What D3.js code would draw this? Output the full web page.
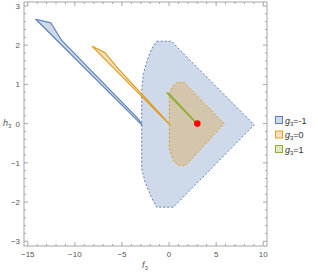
<!DOCTYPE html>
<html>
<head>
<meta charset="utf-8">
<script src="https://cdn.jsdelivr.net/npm/d3@7"></script>
<style>
  body { margin: 0; background: #fff; }
  text { font-family: "Liberation Sans", Arial, sans-serif; }
</style>
</head>
<body>
<svg id="chart"></svg>
<script>
// axis ticks
const xTicks = [-15, -10, -5, 0, 5, 10];
const yTicks = [-3, -2, -1, 0, 1, 2, 3];

// g3 = -1 : big region (dashed) and thin sliver (solid)
const regionNeg1 = [
  [-1.31, 2.10], [0.29, 2.10], [1.17, 1.87], [9.04, -0.03], [0.46, -2.13],
  [-1.31, -2.13], [-1.81, -1.91], [-2.55, -1.49], [-2.9, -1.15], [-2.9, 0.85],
  [-2.73, 1.28], [-2.2, 1.70], [-1.81, 1.92]
];
const sliverNeg1 = [[-14.15, 2.66], [-12.55, 2.57], [-11.4, 2.12], [-3.19, 0.1], [-2.87, -0.04]];

// g3 = 0
const region0 = [
  [0.03, 0.77], [0.32, 0.93], [0.85, 1.05], [1.6, 1.05], [2.0, 0.95], [5.85, 0.0],
  [1.8, -1.06], [0.96, -1.06], [0.43, -0.94], [0.03, -0.63]
];
const sliver0 = [[-8.16, 1.97], [-6.81, 1.81], [-5.43, 1.41], [-0.32, 0.085], [0.11, -0.04]];

// g3 = 1
const sliver1 = [[-0.22, 0.78], [0.03, 0.76], [3.0, 0.0], [2.85, 0.02]];

const point = [3, 0];

const legendLabels = ["-1", "0", "1"];
const colors = ["#5e81b5", "#e19c24", "#8fb032"];

const W = 318, H = 273;
const margin = { top: 2, right: 51, bottom: 27, left: 24 };
const width = W - margin.left - margin.right;
const height = H - margin.top - margin.bottom;

const svg = d3.select("#chart").attr("width", W).attr("height", H);
const chart = svg.append("g")
  .attr("transform", "translate(" + margin.left + "," + margin.top + ")");

const x = d3.scaleLinear().domain([-15.4, 10.4]).range([0, width]);
const y = d3.scaleLinear().domain([-3.12, 3.1]).range([height, 0]);

const line = d3.line().x(d => x(d[0])).y(d => y(d[1]));
const close = pts => line(pts) + "Z";

// regions
function region(pts, i, dashed) {
  chart.append("path")
    .attr("d", close(pts))
    .attr("fill", colors[i])
    .attr("fill-opacity", 0.3)
    .attr("stroke", colors[i])
    .attr("stroke-width", dashed ? 1 : 1.2)
    .attr("stroke-dasharray", dashed ? "2,2" : null)
    .attr("stroke-linejoin", "round");
}
region(regionNeg1, 0, true);
region(sliverNeg1, 0, false);
region(region0, 1, true);
region(sliver0, 1, false);
region(sliver1, 2, false);

chart.append("circle")
  .attr("cx", x(point[0])).attr("cy", y(point[1]))
  .attr("r", 3.3).attr("fill", "#ff0000");

// frame and ticks
const frameColor = "#a6a6a6";
chart.append("rect")
  .attr("width", width).attr("height", height)
  .attr("fill", "none").attr("stroke", frameColor).attr("stroke-width", 1);

const xMinor = d3.range(-15, 11, 1);
const yMinor = d3.range(-3, 3.01, 0.2);

xMinor.forEach(v => {
  const major = xTicks.includes(v);
  const len = major ? 4 : 2;
  chart.append("line").attr("x1", x(v)).attr("x2", x(v)).attr("y1", height).attr("y2", height - len).attr("stroke", frameColor);
  chart.append("line").attr("x1", x(v)).attr("x2", x(v)).attr("y1", 0).attr("y2", len).attr("stroke", frameColor);
});
yMinor.forEach(v => {
  const major = Math.abs(v - Math.round(v)) < 1e-6;
  const len = major ? 4 : 2;
  chart.append("line").attr("y1", y(v)).attr("y2", y(v)).attr("x1", 0).attr("x2", len).attr("stroke", frameColor);
  chart.append("line").attr("y1", y(v)).attr("y2", y(v)).attr("x1", width).attr("x2", width - len).attr("stroke", frameColor);
});

const labelColor = "#555";
chart.selectAll(".xt").data(xTicks).enter().append("text")
  .attr("x", d => x(d)).attr("y", height + 11)
  .attr("text-anchor", "middle").attr("font-size", 8).attr("fill", labelColor)
  .text(d => d < 0 ? "\u2212" + (-d) : d);
chart.selectAll(".yt").data(yTicks).enter().append("text")
  .attr("x", -4).attr("y", d => y(d) + 3)
  .attr("text-anchor", "end").attr("font-size", 8).attr("fill", labelColor)
  .text(d => d < 0 ? "\u2212" + (-d) : d);

// axis labels
const fx = svg.append("text").attr("x", 145).attr("y", 268)
  .attr("text-anchor", "middle").attr("font-size", 9).attr("fill", labelColor);
fx.append("tspan").attr("font-style", "italic").text("f");
fx.append("tspan").attr("font-size", 6).attr("dy", 2).text("3");

const hy = svg.append("text").attr("x", 3).attr("y", 126)
  .attr("font-size", 9).attr("fill", labelColor);
hy.append("tspan").attr("font-style", "italic").text("h");
hy.append("tspan").attr("font-size", 6).attr("dy", 2).text("3");

// legend
const legend = svg.append("g").attr("transform", "translate(275,116)");
legendLabels.forEach((lab, i) => {
  const g = legend.append("g").attr("transform", "translate(0," + (i * 14.5) + ")");
  g.append("rect").attr("x", 0.5).attr("y", 0.5).attr("width", 7).attr("height", 7)
    .attr("fill", colors[i]).attr("fill-opacity", 0.3)
    .attr("stroke", colors[i]).attr("stroke-width", 1);
  const t = g.append("text").attr("x", 10).attr("y", 7.5)
    .attr("font-size", 9).attr("fill", "#333");
  t.append("tspan").attr("font-style", "italic").text("g");
  t.append("tspan").attr("font-size", 6).attr("dy", 2).text("3");
  t.append("tspan").attr("dy", -2).text("=" + lab);
});
</script>
</body>
</html>
